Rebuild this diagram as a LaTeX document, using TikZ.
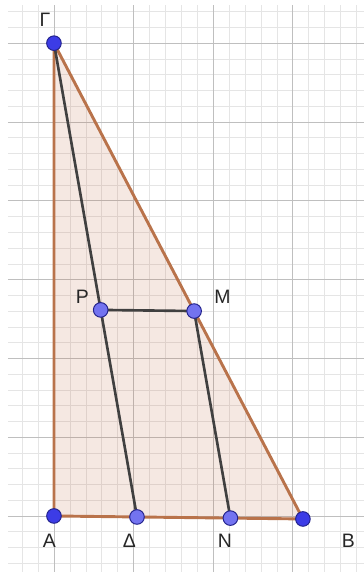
\documentclass[tikz,border=0pt]{standalone}
\usepackage{fontspec}
\setmainfont{Liberation Sans}
\usetikzlibrary{calc}

\definecolor{bordtri}{RGB}{185,115,75}
\definecolor{fondtri}{RGB}{190,100,60}
\definecolor{segment}{RGB}{64,64,64}
\definecolor{ptlibre}{RGB}{60,60,230}
\definecolor{ptlie}{RGB}{115,115,240}
\definecolor{ptbord}{RGB}{35,35,140}

\begin{document}
\begin{tikzpicture}[x=2.015cm, y=1.995cm,
    gridfin/.style={black!10, line width=0.4pt},
    gridgros/.style={black!25, line width=0.5pt},
    cote/.style={bordtri, line width=2.1pt, line join=round},
    seg/.style={segment, line width=1.9pt},
    pt/.style={circle, draw=ptbord, fill=ptlibre, line width=0.7pt, inner sep=0pt, minimum size=0.37cm},
    ptdep/.style={pt, fill=ptlie},
    lbl/.style={font=\fontsize{14}{14}\selectfont, text=black!85, inner sep=0pt}]
    \useasboundingbox (-0.678,-0.711) rectangle (3.894,6.548);

    % Quadrillage
    \draw[gridfin, step=0.2] (-0.578,-0.711) grid (3.894,6.485);
    \draw[gridgros, step=1] (-0.578,-0.711) grid (3.894,6.485);

    % Sommets du triangle
    \coordinate (A) at (0,0);
    \coordinate (B) at (3.128,-0.038);
    \coordinate (G) at (0,6);

    % Points construits
    \coordinate (D) at ($(A)!0.3335!(B)$);
    \coordinate (P) at ($(G)!0.563!(D)$);
    \coordinate (M) at ($(G)!0.563!(B)$);
    \coordinate (N) at ($(M)+(D)-(P)$);

    % Triangle (zone teintée)
    \fill[fondtri, opacity=0.15] (A) -- (B) -- (G) -- cycle;
    \draw[cote] (A) -- (B) -- (G) -- cycle;

    % Segments
    \draw[seg] (G) -- (D);
    \draw[seg] (P) -- (M) -- (N);

    % Points
    \node[pt] (pA) at (A) {};
    \node[pt] (pB) at (B) {};
    \node[pt] (pG) at (G) {};
    \node[ptdep] (pD) at (D) {};
    \node[ptdep] (pN) at (N) {};
    \node[ptdep] (pP) at (P) {};
    \node[ptdep] (pM) at (M) {};

    % Noms des points
    \node[lbl] (lG) at (-0.113,6.294) {Γ};
    \node[lbl] (lA) at (-0.057,-0.317) {A};
    \node[lbl] (lD) at (0.948,-0.317) {Δ};
    \node[lbl] (lN) at (2.148,-0.317) {N};
    \node[lbl] (lB) at (3.70,-0.317) {B};
    \node[lbl] (lP) at (0.358,2.786) {P};
    \node[lbl] (lM) at (2.117,2.786) {M};

\end{tikzpicture}
\end{document}
